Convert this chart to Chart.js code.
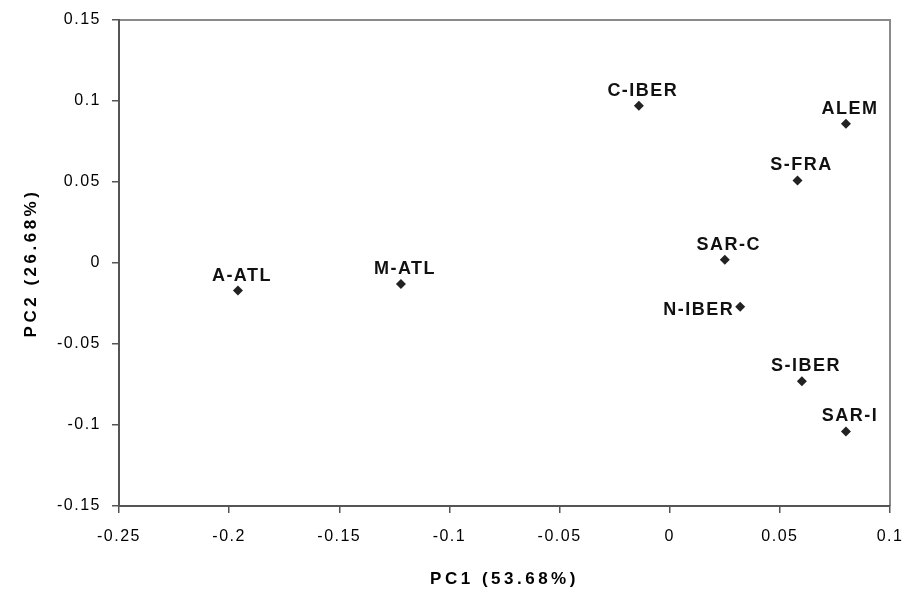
<!DOCTYPE html>
<html>
<head>
<meta charset="utf-8">
<script src="https://cdn.jsdelivr.net/npm/chart.js@4/dist/chart.umd.min.js"></script>
<style>
  html, body { margin: 0; padding: 0; background: #fff; }
  #wrap { width: 908px; height: 594px; }
</style>
</head>
<body>
<div id="wrap"><canvas id="pca"></canvas></div>
<script>
// Population scores on the first two principal components
const sites = ['A-ATL', 'M-ATL', 'C-IBER', 'ALEM', 'S-FRA', 'SAR-C', 'N-IBER', 'S-IBER', 'SAR-I'];
const pc1 = [-0.196, -0.122, -0.014, 0.080, 0.058, 0.025, 0.032, 0.060, 0.080];
const pc2 = [-0.017, -0.013, 0.097, 0.086, 0.051, 0.002, -0.027, -0.073, -0.104];

const xTitle = 'PC1 (53.68%)';
const yTitle = 'PC2 (26.68%)';

const FONT = '"Liberation Sans", Arial, Helvetica, sans-serif';
const INK = '#000';
const AXIS = '#555';
const FRAME = '#8a8a8a';

// Labels placed to the left of their point instead of above it
const leftLabels = new Set(['N-IBER']);

const points = sites.map((s, i) => ({ x: pc1[i], y: pc2[i], name: s }));

function fmt(v) {
  const r = Math.round(v * 100) / 100;
  return (r === 0 ? 0 : r).toString();
}

function spaced(ctx, amount, fn) {
  const prev = ctx.letterSpacing;
  ctx.letterSpacing = amount;
  fn();
  ctx.letterSpacing = prev;
}

// Letter spacing for tick labels and axis titles
const spacingPlugin = {
  id: 'spacing',
  beforeDraw(chart) {
    ['x', 'y'].forEach(id => {
      const s = chart.scales[id];
      if (!s || s._spacedText) return;
      const dl = s.drawLabels, dt = s.drawTitle;
      s.drawLabels = function (a) { spaced(this.ctx, '1.5px', () => dl.call(this, a)); };
      s.drawTitle = function () { spaced(this.ctx, '3.5px', () => dt.call(this)); };
      s._spacedText = true;
    });
  }
};

// Light frame around the plot area (top and right sides)
const framePlugin = {
  id: 'frame',
  beforeDraw(chart) {
    const { ctx, chartArea: a } = chart;
    ctx.save();
    ctx.strokeStyle = FRAME;
    ctx.lineWidth = 2;
    ctx.beginPath();
    ctx.moveTo(a.left, a.top);
    ctx.lineTo(a.right, a.top);
    ctx.lineTo(a.right, a.bottom);
    ctx.stroke();
    ctx.restore();
  }
};

// Site names next to each point
const pointLabelPlugin = {
  id: 'pointLabels',
  afterDatasetsDraw(chart) {
    const { ctx } = chart;
    const meta = chart.getDatasetMeta(0);
    ctx.save();
    ctx.font = 'bold 18px ' + FONT;
    ctx.fillStyle = '#111';
    ctx.letterSpacing = '1.5px';
    meta.data.forEach((el, i) => {
      const name = chart.data.datasets[0].data[i].name;
      if (leftLabels.has(name)) {
        ctx.textAlign = 'right';
        ctx.textBaseline = 'middle';
        ctx.fillText(name, el.x - 6, el.y + 3);
      } else {
        ctx.textAlign = 'center';
        ctx.textBaseline = 'alphabetic';
        ctx.fillText(name, el.x + 4, el.y - 10);
      }
    });
    ctx.restore();
  }
};

new Chart(document.getElementById('pca'), {
  type: 'scatter',
  data: {
    datasets: [{
      data: points,
      pointStyle: 'rectRot',
      pointRadius: 5,
      pointHoverRadius: 5,
      backgroundColor: '#222',
      borderColor: '#222',
      borderWidth: 0
    }]
  },
  options: {
    responsive: true,
    maintainAspectRatio: false,
    animation: false,
    events: [],
    layout: { padding: { top: 20, right: 18, left: 0, bottom: 0 } },
    plugins: {
      legend: { display: false },
      tooltip: { enabled: false },
      title: { display: false }
    },
    scales: {
      x: {
        type: 'linear',
        min: -0.25,
        max: 0.1,
        afterFit(s) { s.height = 88; s.paddingLeft = 0; s.paddingRight = 0; },
        ticks: {
          stepSize: 0.05,
          color: INK,
          font: { family: FONT, size: 16 },
          padding: 14,
          maxRotation: 0,
          callback: v => fmt(v)
        },
        grid: { display: true, drawOnChartArea: false, drawTicks: true, tickLength: 7, color: AXIS, lineWidth: 1.5 },
        border: { display: true, color: AXIS, width: 2 },
        title: {
          display: true,
          text: xTitle,
          color: INK,
          font: { family: FONT, size: 17, weight: 'bold' },
          padding: { top: 0, bottom: 4 }
        }
      },
      y: {
        type: 'linear',
        min: -0.15,
        max: 0.15,
        afterFit(s) { s.width = 119; s.paddingTop = 0; s.paddingBottom = 0; },
        ticks: {
          stepSize: 0.05,
          color: INK,
          font: { family: FONT, size: 16 },
          padding: 11,
          callback: v => fmt(v)
        },
        grid: { display: true, drawOnChartArea: false, drawTicks: true, tickLength: 7, color: AXIS, lineWidth: 1.5 },
        border: { display: true, color: AXIS, width: 2 },
        title: {
          display: true,
          text: yTitle,
          color: INK,
          font: { family: FONT, size: 17, weight: 'bold' },
          padding: { top: 21, bottom: 0 }
        }
      }
    }
  },
  plugins: [spacingPlugin, framePlugin, pointLabelPlugin]
});
</script>
</body>
</html>
